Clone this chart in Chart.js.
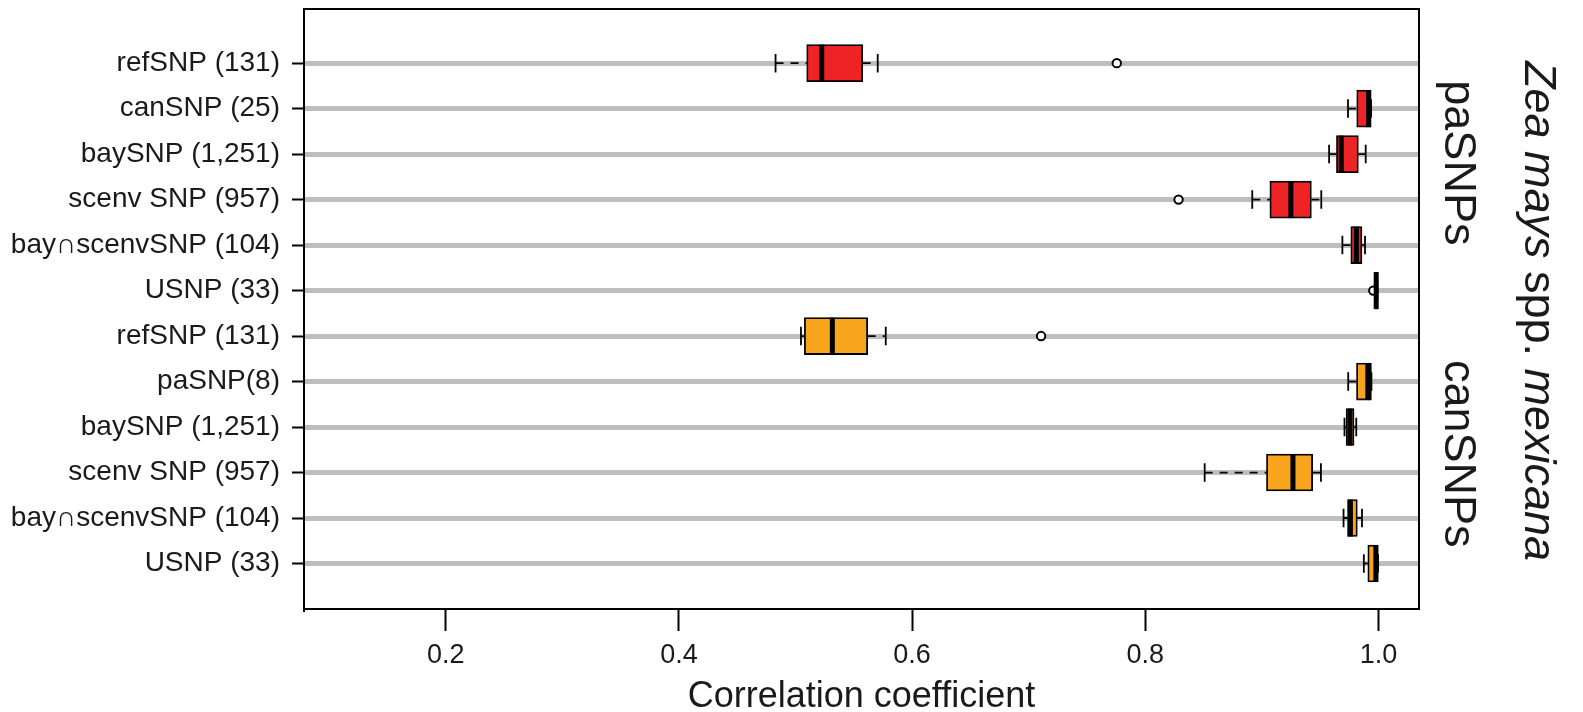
<!DOCTYPE html>
<html>
<head>
<meta charset="utf-8">
<script src="https://cdn.jsdelivr.net/npm/chart.js@4/dist/chart.umd.min.js"></script>
<style>
	html, body { margin: 0; padding: 0; background: #fff; }
	#wrap { width: 1583px; height: 712px; }
</style>
</head>
<body>
<div id="wrap"><canvas id="box-chart"></canvas></div>
<script>

/*  Data  */

let rowLabels = ['refSNP (131)', 'canSNP (25)', 'baySNP (1,251)', 'scenv SNP (957)', 'bay\u2229scenvSNP (104)', 'USNP (33)',
	'refSNP (131)', 'paSNP(8)', 'baySNP (1,251)', 'scenv SNP (957)', 'bay\u2229scenvSNP (104)', 'USNP (33)'];
let rowGroup = ['paSNPs', 'paSNPs', 'paSNPs', 'paSNPs', 'paSNPs', 'paSNPs',
	'canSNPs', 'canSNPs', 'canSNPs', 'canSNPs', 'canSNPs', 'canSNPs'];

let whiskerLow = [0.4829, 0.9738, 0.9576, 0.8917, 0.9690, 0.9970, 0.5047, 0.9740, 0.9708, 0.8509, 0.9700, 0.9874];
let q1 = [0.5096, 0.9813, 0.9639, 0.9068, 0.9762, 0.9974, 0.5076, 0.9811, 0.9722, 0.9039, 0.9734, 0.9908];
let median = [0.5225, 0.9915, 0.9680, 0.9248, 0.9810, 0.9980, 0.5316, 0.9908, 0.9755, 0.9266, 0.9759, 0.9977];
let q3 = [0.5576, 0.9936, 0.9827, 0.9424, 0.9858, 0.9988, 0.5619, 0.9939, 0.9790, 0.9435, 0.9818, 0.9996];
let whiskerHigh = [0.5705, 0.9936, 0.9890, 0.9509, 0.9884, 0.9990, 0.5774, 0.9939, 0.9809, 0.9506, 0.9858, 0.9996];
let outliers = [[0.7755], [], [], [0.8285], [], [0.9955], [0.7106], [], [], [], [], []];

let xTicks = [0.2, 0.4, 0.6, 0.8, 1.0];

/*  Styles  */

let groupColor = { paSNPs: '#ee2326', canSNPs: '#f8a51d' };
let boxHeight = 37;
let fontFamily = '"Liberation Sans", Arial, Helvetica, sans-serif';

let boxData = rowLabels.map((l, i) => ({ y: i + 1, x: [q1[i], q3[i]] }));
let outlierData = [];
outliers.forEach((list, i) => list.forEach(v => outlierData.push({ x: v, y: i + 1 })));

/* whiskers (under the boxes), medians and caps (over them) */
let boxParts = {
	id: 'boxParts',
	beforeDatasetsDraw(chart) {
		let ctx = chart.ctx, xs = chart.scales.x, ys = chart.scales.y;
		ctx.save();
		ctx.strokeStyle = '#000';
		ctx.lineWidth = 1.8;
		ctx.setLineDash([8, 7]);
		for (let i = 0; i < rowLabels.length; i++) {
			let y = ys.getPixelForValue(i + 1);
			ctx.beginPath();
			ctx.moveTo(xs.getPixelForValue(whiskerLow[i]), y);
			ctx.lineTo(xs.getPixelForValue(q1[i]), y);
			ctx.moveTo(xs.getPixelForValue(q3[i]), y);
			ctx.lineTo(xs.getPixelForValue(whiskerHigh[i]), y);
			ctx.stroke();
		}
		ctx.restore();
	},
	afterDatasetsDraw(chart) {
		let ctx = chart.ctx, xs = chart.scales.x, ys = chart.scales.y;
		ctx.save();
		ctx.strokeStyle = '#000';
		for (let i = 0; i < rowLabels.length; i++) {
			let y = ys.getPixelForValue(i + 1);
			// caps
			ctx.lineWidth = 1.8;
			ctx.beginPath();
			[whiskerLow[i], whiskerHigh[i]].forEach(v => {
				let x = xs.getPixelForValue(v);
				ctx.moveTo(x, y - boxHeight / 4);
				ctx.lineTo(x, y + boxHeight / 4);
			});
			ctx.stroke();
			// median
			let mx = xs.getPixelForValue(median[i]);
			ctx.lineWidth = 5;
			ctx.beginPath();
			ctx.moveTo(mx, y - boxHeight / 2);
			ctx.lineTo(mx, y + boxHeight / 2);
			ctx.stroke();
		}
		ctx.restore();
	},
	afterDraw(chart) {
		let ctx = chart.ctx, a = chart.chartArea;
		ctx.save();
		// frame round the plot
		ctx.strokeStyle = '#000';
		ctx.lineWidth = 2;
		ctx.strokeRect(a.left, a.top, a.right - a.left, a.bottom - a.top);

		// rotated group names on the right
		ctx.fillStyle = '#1a1a1a';
		ctx.textBaseline = 'alphabetic';
		let drawRotated = function (parts, x, yCenter, size) {
			ctx.save();
			ctx.translate(x, yCenter);
			ctx.rotate(Math.PI / 2);
			let total = 0;
			parts.forEach(p => {
				ctx.font = (p.italic ? 'italic ' : '') + size + 'px ' + fontFamily;
				p.w = ctx.measureText(p.text).width;
				total += p.w;
			});
			let pos = -total / 2;
			parts.forEach(p => {
				ctx.font = (p.italic ? 'italic ' : '') + size + 'px ' + fontFamily;
				ctx.textAlign = 'left';
				ctx.fillText(p.text, pos, 0);
				pos += p.w;
			});
			ctx.restore();
		};
		let ys = chart.scales.y;
		let paMid = (ys.getPixelForValue(1) + ys.getPixelForValue(6)) / 2;
		let canMid = (ys.getPixelForValue(7) + ys.getPixelForValue(12)) / 2;
		drawRotated([{ text: 'paSNPs' }], 1445, paMid - 14, 45);
		drawRotated([{ text: 'canSNPs' }], 1445, canMid + 4, 45);
		drawRotated([{ text: 'Zea mays', italic: true }, { text: ' spp. ' }, { text: 'mexicana', italic: true }],
			1525, (a.top + a.bottom) / 2 + 2, 45);
		ctx.restore();
	}
};

let ctx = document.getElementById('box-chart').getContext('2d');
let boxChart = new Chart(ctx, {
	type: 'bar',
	data: {
		datasets: [
			{
				type: 'scatter',
				data: outlierData,
				pointStyle: 'circle',
				pointRadius: 4.2,
				pointBorderWidth: 2,
				borderColor: '#000',
				backgroundColor: '#fff',
				order: 0
			},
			{
				data: boxData,
				backgroundColor: rowGroup.map(g => groupColor[g]),
				borderColor: '#000',
				borderWidth: 1.8,
				borderSkipped: false,
				barThickness: boxHeight,
				order: 1
			}
		]
	},
	options: {
		indexAxis: 'y',
		responsive: true,
		maintainAspectRatio: false,
		animation: false,
		layout: { padding: { left: 0, right: 164, top: 9, bottom: 0 } },
		plugins: { legend: { display: false }, tooltip: { enabled: false } },
		scales: {
			x: {
				type: 'linear',
				min: 0.0785,
				max: 1.0347,
				offset: false,
				afterBuildTicks: s => { s.ticks = xTicks.map(v => ({ value: v })); },
				afterFit: s => { s.height = 103; s.paddingLeft = 0; s.paddingRight = 0; },
				grid: { offset: false, drawOnChartArea: false, tickLength: 22, tickColor: '#000', tickWidth: 2 },
				border: { color: '#000', width: 2 },
				ticks: {
					color: '#1a1a1a',
					padding: 8,
					maxRotation: 0,
					font: { family: fontFamily, size: 27 },
					callback: v => v.toFixed(1)
				},
				title: {
					display: true,
					text: 'Correlation coefficient',
					color: '#1a1a1a',
					padding: { top: 0, bottom: 0 },
					font: { family: fontFamily, size: 36, lineHeight: 0.85 }
				}
			},
			y: {
				type: 'linear',
				reverse: true,
				min: -0.19,
				max: 13.0,
				offset: false,
				afterBuildTicks: s => { s.ticks = rowLabels.map((l, i) => ({ value: i + 1 })); },
				afterFit: s => { s.width = 304; s.paddingTop = 0; s.paddingBottom = 0; },
				grid: { offset: false, color: '#bebec2', lineWidth: 5, tickLength: 12, tickColor: '#000', tickWidth: 2 },
				border: { color: '#000', width: 2 },
				ticks: {
					color: '#1a1a1a',
					padding: 12,
					autoSkip: false,
					font: { family: fontFamily, size: 28 },
					callback: v => rowLabels[Math.round(v) - 1]
				}
			}
		}
	},
	plugins: [boxParts]
});
</script>
</body>
</html>
